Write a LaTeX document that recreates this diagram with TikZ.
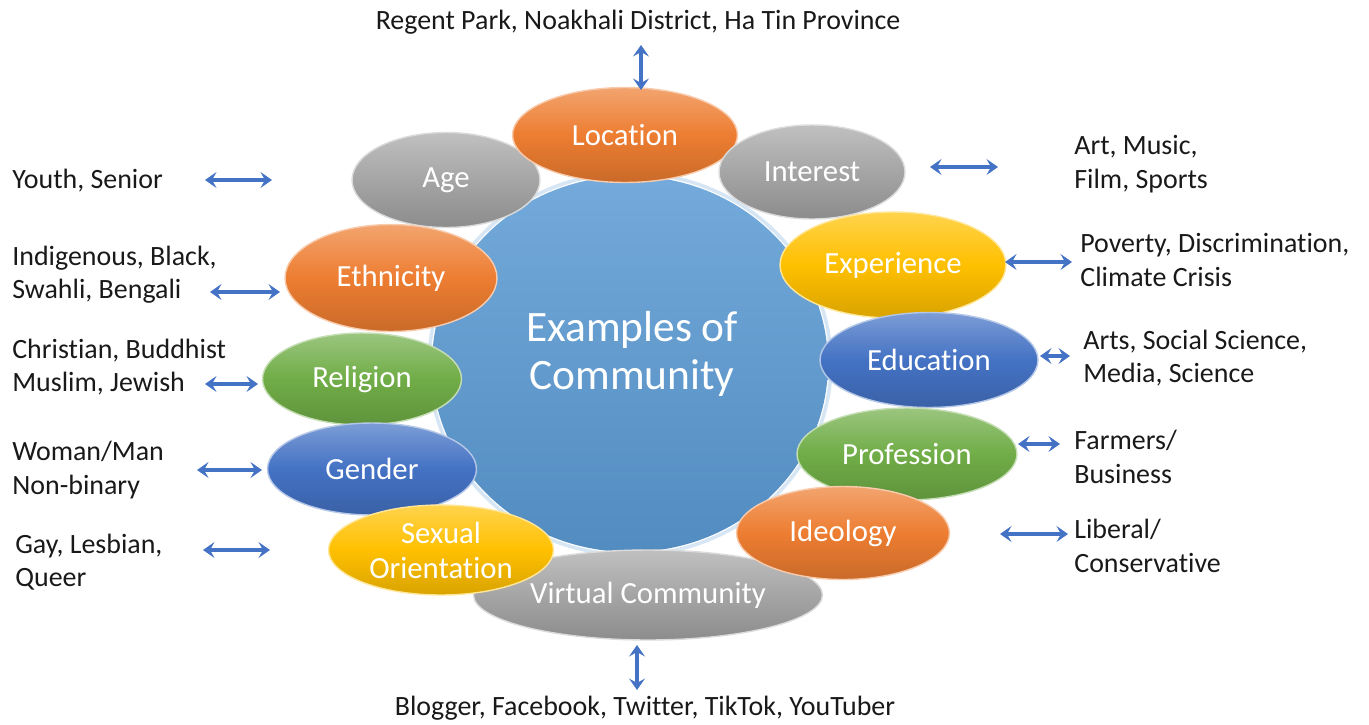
\documentclass[tikz,border=0pt]{standalone}
\usepackage{fontspec}
\setmainfont{Carlito}[Ligatures=NoCommon]
\usetikzlibrary{shapes,arrows.meta,positioning}
\definecolor{orng}{HTML}{ED7D31}
\definecolor{gry}{HTML}{A5A5A5}
\definecolor{ylw}{HTML}{FFC000}
\definecolor{blu}{HTML}{4472C4}
\definecolor{grn}{HTML}{70AD47}
\definecolor{sky}{HTML}{5B9BD5}
\definecolor{arrblue}{HTML}{4472C4}

\begin{document}
\begin{tikzpicture}[x=0.02cm,y=-0.02cm,
	bub/.style={ellipse,inner sep=0pt,text=white,align=center,font=\fontsize{17.5}{20}\selectfont,
		draw=white!60!#1,line width=0.8pt,top color=#1!70!white,bottom color=#1!85!black,middle color=#1},
	lab/.style={anchor=west,align=left,inner sep=0pt,font=\fontsize{15.9}{19}\selectfont,text=black!90},
	dbl/.style={{Stealth[length=6.5pt,width=9pt,inset=2.5pt]}-{Stealth[length=6.5pt,width=9pt,inset=2.5pt]},line width=2pt,draw=arrblue}]
	\useasboundingbox (0,0) rectangle (1369,724);

	% centre
	\draw[draw=sky!25,line width=2pt] (630,364) ellipse [x radius=201,y radius=191];
	\node[ellipse,minimum width=7.92cm,minimum height=7.52cm,inner sep=0pt,top color=sky!85!white,bottom color=sky!90!black,
		text=white,align=center,font=\fontsize{24.7}{27.5}\selectfont] (mid) at (630,364) {};
	\node[text=white,align=center,font=\fontsize{24.7}{27.5}\selectfont] (title) at (632,354) {Examples of\\Community};

	% bubbles
	\node[bub=gry,minimum width=6.98cm,minimum height=1.8cm] (virt) at (648,595) {Virtual Community};
	\node[bub=gry,minimum width=3.76cm,minimum height=1.9cm] (age) at (446,180) {Age};
	\node[bub=orng,minimum width=4.5cm,minimum height=1.9cm] (loc) at (625,135) {Location};
	\node[bub=gry,minimum width=3.72cm,minimum height=1.88cm] (intr) at (812,172) {Interest};
	\node[bub=orng,minimum width=4.24cm,minimum height=2.14cm] (eth) at (391,278) {Ethnicity};
	\node[bub=ylw,minimum width=4.52cm,minimum height=2.12cm] (exper) at (893,265) {Experience};
	\node[bub=grn,minimum width=3.98cm,minimum height=1.84cm] (rel) at (362,379) {Religion};
	\node[bub=blu,minimum width=4.36cm,minimum height=1.9cm] (edu) at (929,360) {Education};
	\node[bub=blu,minimum width=4.18cm,minimum height=1.84cm] (gen) at (372,469) {Gender};
	\node[bub=grn,minimum width=4.4cm,minimum height=1.84cm] (prof) at (907,454) {Profession};
	\node[bub=ylw,minimum width=4.5cm,minimum height=1.8cm] (sex) at (441,550) {Sexual\\Orientation};
	\node[bub=orng,minimum width=4.26cm,minimum height=1.86cm] (ideo) at (843,533) {Ideology};

	% examples
	\node[lab,anchor=center] (ttop) at (638,22) {Regent Park, Noakhali District, Ha Tin Province};
	\node[lab,anchor=center] (tbot) at (645,708) {Blogger, Facebook, Twitter, TikTok, YouTuber};
	\node[lab] (tage) at (12,181) {Youth, Senior};
	\node[lab] (teth) at (12,275) {Indigenous, Black,\\Swahli, Bengali};
	\node[lab] (trel) at (12,367) {Christian, Buddhist\\Muslim, Jewish};
	\node[lab] (tgen) at (12,470) {Woman/Man\\Non-binary};
	\node[lab] (tsex) at (15,562) {Gay, Lesbian,\\Queer};
	\node[lab] (tintr) at (1074,164) {Art, Music,\\Film, Sports};
	\node[lab] (texper) at (1080,260) {Poverty, Discrimination,\\Climate Crisis};
	\node[lab] (tedu) at (1083,358) {Arts, Social Science,\\Media, Science};
	\node[lab] (tprof) at (1074,457) {Farmers/\\Business};
	\node[lab] (tideo) at (1074,546) {Liberal/\\Conservative};

	% arrows
	\coordinate (p1) at (641,45);   \coordinate (q1) at (641,90);
	\coordinate (p2) at (205,180);  \coordinate (q2) at (272,180);
	\coordinate (p3) at (930,167);  \coordinate (q3) at (998,167);
	\coordinate (p4) at (210,292);  \coordinate (q4) at (280,292);
	\coordinate (p5) at (1005,262); \coordinate (q5) at (1072,262);
	\coordinate (p6) at (205,384);  \coordinate (q6) at (258,384);
	\coordinate (p7) at (1040,356); \coordinate (q7) at (1070,356);
	\coordinate (p8) at (197,470);  \coordinate (q8) at (262,470);
	\coordinate (p9) at (1018,444); \coordinate (q9) at (1060,444);
	\coordinate (p10) at (203,550); \coordinate (q10) at (270,550);
	\coordinate (p11) at (1000,534); \coordinate (q11) at (1068,534);
	\coordinate (p12) at (637,645); \coordinate (q12) at (637,690);
	\foreach \i in {1,...,12}
		\draw[dbl] (p\i) -- (q\i);
\end{tikzpicture}
\end{document}
